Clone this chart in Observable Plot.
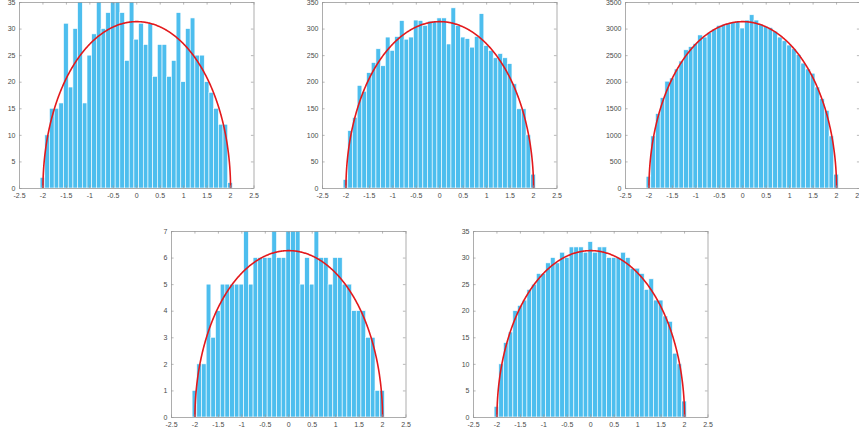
<!DOCTYPE html>
<html><head><meta charset="utf-8">
<script src="https://cdn.jsdelivr.net/npm/d3@7"></script>
<script src="https://cdn.jsdelivr.net/npm/@observablehq/plot@0.6"></script>
<style>
html,body{margin:0;padding:0;background:#fff;overflow:hidden;width:859px;height:437px;}
#fig{position:relative;width:859px;height:437px;overflow:hidden;}
#fig > svg{position:absolute;overflow:visible;}
</style></head><body><div id="fig"></div>
<script>
// ---- data ----
const binCenters = [-2.0,-1.9,-1.8,-1.7,-1.6,-1.5,-1.4,-1.3,-1.2,-1.1,-1.0,-0.9,-0.8,-0.7,-0.6,-0.5,-0.4,-0.3,-0.2,-0.1,0.0,
  0.1,0.2,0.3,0.4,0.5,0.6,0.7,0.8,0.9,1.0,1.1,1.2,1.3,1.4,1.5,1.6,1.7,1.8,1.9,2.0];
const binWidth = 0.1;
const counts1 = [2,10,15,15,16,31,19,30,38,16,25,29,37,30,33,36,39,33,24,38,28,31,27,31,21,27,27,21,24,33,20,30,32,25,25,20,18,15,12,12,1];
const counts2 = [16,108,133,193,182,217,236,262,230,284,259,285,315,280,284,316,315,306,314,314,320,320,271,339,306,284,281,265,285,328,268,259,245,253,245,234,196,149,149,100,26];
const counts3 = [220,980,1400,1700,2010,2070,2240,2390,2600,2660,2720,2880,2840,2930,2990,3060,3080,3100,3120,3140,3010,3160,3260,3160,3080,3040,3020,2950,2840,2770,2690,2620,2510,2350,2240,2160,1900,1680,1460,980,260];
const counts4 = [1,2,2,5,3,4,5,5,5,5,5,7,5,6,6,6,6,7,6,6,7,7,7,5,6,5,7,6,6,5,6,6,5,5,4,4,4,3,3,1,1];
const counts5 = [2,10,14,16,20,21,22,24,25,27,27,29,30,29,31,30,32,32,32,31,33,31,32,32,30,30,30,31,30,28,28,27,24,26,22,22,19,18,12,10,3];
const xTicks = [-2.5,-2,-1.5,-1,-0.5,0,0.5,1,1.5,2,2.5];
const yTicks1 = [0,5,10,15,20,25,30,35];
const yTicks2 = [0,50,100,150,200,250,300,350];
const yTicks3 = [0,500,1000,1500,2000,2500,3000,3500];
const yTicks4 = [0,1,2,3,4,5,6,7];
const yTicks5 = [0,5,10,15,20,25,30,35];
const curvePeaks = [31.4, 314, 3140, 6.28, 31.4];   // semicircle height
const semicircleRadius = 2;

// ---- layout ----
const frames = [
  {left: 19.2, top: 1.7}, {left: 321.7, top: 1.7}, {left: 625, top: 1.7},
  {left: 170.7, top: 230.7}, {left: 473.3, top: 230.7}
];
const FW = 234.5, FH = 186;
const M = {left: 30, right: 6, top: 4, bottom: 16};
const barColor = "#4DBEEE", curveColor = "#e3191c", axisColor = "#9a9a9a", textColor = "#4a4a4a";

const series = [counts1, counts2, counts3, counts4, counts5];
const yTickSets = [yTicks1, yTicks2, yTicks3, yTicks4, yTicks5];
const fig = document.getElementById("fig");
const fmt = d => String(d);

series.forEach((counts, i) => {
  const yt = yTickSets[i];
  const ymax = yt[yt.length - 1];
  const bars = binCenters.map((c, j) => ({x1: c - binWidth/2, x2: c + binWidth/2, y: counts[j]}));
  const peak = curvePeaks[i];
  const curve = d3.range(0, 401).map(k => {
    const t = Math.PI * (1 - k/400);
    return {x: semicircleRadius * Math.cos(t), y: peak * Math.sin(t)};
  });
  const tly = ymax * 2.6 / FH, tlx = 5 * 2.6 / FW;
  const chart = Plot.plot({
    width: M.left + FW + M.right,
    height: M.top + FH + M.bottom,
    marginLeft: M.left, marginRight: M.right, marginTop: M.top, marginBottom: M.bottom,
    style: {fontFamily: "'Liberation Sans', Arial, Helvetica, sans-serif", fontSize: "7px", color: textColor, background: "transparent", overflow: "visible"},
    x: {domain: [-2.5, 2.5], label: null},
    y: {domain: [0, ymax], label: null},
    marks: [
      Plot.rectY(bars, {x1: "x1", x2: "x2", y: "y", fill: barColor, stroke: "white", strokeWidth: 0.6, clip: true}),
      Plot.line(curve, {x: "x", y: "y", stroke: curveColor, strokeWidth: 1.6, clip: true}),
      Plot.ruleX(xTicks, {x: d => d, y1: 0, y2: tly, stroke: axisColor, strokeWidth: 0.7}),
      Plot.ruleX(xTicks, {x: d => d, y1: ymax - tly, y2: ymax, stroke: axisColor, strokeWidth: 0.7}),
      Plot.ruleY(yt, {y: d => d, x1: -2.5, x2: -2.5 + tlx, stroke: axisColor, strokeWidth: 0.7}),
      Plot.ruleY(yt, {y: d => d, x1: 2.5 - tlx, x2: 2.5, stroke: axisColor, strokeWidth: 0.7}),
      Plot.frame({stroke: axisColor, strokeWidth: 0.8}),
      Plot.axisX({ticks: xTicks, tickFormat: fmt, tickSize: 0, tickPadding: 5, fill: textColor, label: null}),
      Plot.axisY({ticks: yt, tickFormat: fmt, tickSize: 0, tickPadding: 4, fill: textColor, label: null})
    ]
  });
  chart.style.left = (frames[i].left - M.left) + "px";
  chart.style.top = (frames[i].top - M.top) + "px";
  fig.appendChild(chart);
});
</script>
</body></html>
